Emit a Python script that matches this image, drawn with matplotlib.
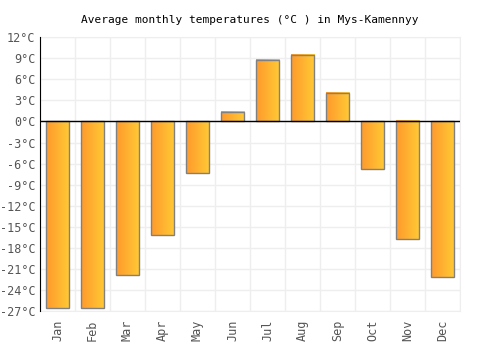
import matplotlib

matplotlib.use("Agg")

import matplotlib.pyplot as plt
import numpy as np
from matplotlib.colors import LinearSegmentedColormap

months = ["Jan", "Feb", "Mar", "Apr", "May", "Jun",
          "Jul", "Aug", "Sep", "Oct", "Nov", "Dec"]
temps = [-26.5, -26.6, -21.8, -16.1, -7.3, 1.4,
         8.7, 9.5, 4.0, -6.7, -16.8, -22.1]
y_ticks = list(range(-27, 13, 3))

plt.rcParams["font.family"] = ["DejaVu Sans Mono"]

fig = plt.figure(figsize=(5.0, 3.5), dpi=100)
ax = fig.add_axes([0.08, 0.111, 0.84, 0.783])

cmap = LinearSegmentedColormap.from_list("bar", ["#ff9a2c", "#ffca35"])
gradient = np.linspace(0, 1, 64).reshape(1, -1)
width = 0.66

x = np.arange(len(months))
for xi, val in zip(x, temps):
    ax.imshow(gradient, cmap=cmap, aspect="auto", interpolation="bicubic",
              extent=(xi - width / 2, xi + width / 2, 0, val), zorder=2)
ax.bar(x, temps, width=width, facecolor="none", edgecolor="#808080",
       linewidth=1.0, zorder=3)

ax.set_xlim(-0.5, len(months) - 0.5)
ax.set_ylim(-27, 12)
ax.set_yticks(y_ticks)
ax.set_yticklabels([f"{t}°C" for t in y_ticks])
ax.set_xticks(x)
ax.set_xticklabels(months, rotation=90)
ax.set_xticks(np.arange(-0.5, len(months)), minor=True)

ax.grid(axis="y", color="#eeeeee", linewidth=1, zorder=0)
ax.grid(axis="x", which="minor", color="#eeeeee", linewidth=1, zorder=0)
ax.tick_params(axis="both", which="both", length=0, labelsize=8.5,
               labelcolor="#555555")
ax.tick_params(axis="x", pad=6)
ax.axhline(0, color="black", linewidth=1, zorder=4)

for side in ["top", "right", "bottom"]:
    ax.spines[side].set_color("#eeeeee")
ax.spines["left"].set_color("black")
ax.spines["left"].set_zorder(5)

ax.set_title("Average monthly temperatures (°C ) in Mys-Kamennyy",
             fontsize=8, pad=10)

fig.savefig("out.png", dpi=100)
